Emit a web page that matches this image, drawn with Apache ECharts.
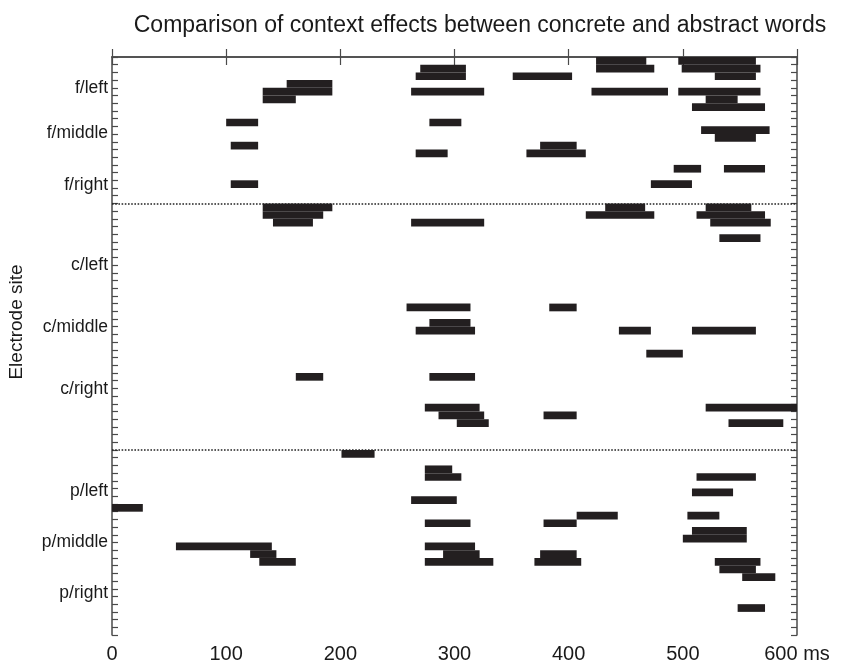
<!DOCTYPE html>
<html>
<head>
<meta charset="utf-8">
<script src="https://cdn.jsdelivr.net/npm/echarts@6/dist/echarts.min.js"></script>
<style>
html,body{margin:0;padding:0;background:#fff;}
#chart{width:843px;height:667px;}
</style>
</head>
<body>
<div id="chart"></div>
<script>
// Electrode rows (0 = top row), start and end times (ms) of each significant segment
const barRow = [0,0, 1,1,1, 2,2,2, 3, 4,4,4,4, 5,5, 6, 8,8, 9, 10, 11,11, 12,12, 14,14, 16,16,
  19,19,19, 20,20,20, 21,21,21, 23,
  32,32, 34, 35,35,35, 38, 41,41, 45,45, 46,46, 47,47,
  51, 53, 54,54, 56, 57, 58, 59,59, 60,60, 61, 62, 63,63, 64,64,64, 65,65,65,65, 66, 67, 71];
const barStart = [424,496, 270,424,499, 266,351,528, 153, 132,262,420,496, 132,520, 508, 100,278, 516, 528, 104,375, 266,363, 492,536, 104,472,
  132,432,520, 132,415,512, 141,262,524, 532,
  258,383, 278, 266,444,508, 468, 161,278, 274,520, 286,378, 302,540,
  201, 274, 274,512, 508, 262, 0, 407,504, 274,378, 508, 500, 56,274, 121,290,375, 129,274,370,528, 532, 552, 548];
const barEnd = [468,564, 310,475,568, 310,403,564, 193, 193,326,487,568, 161,548, 572, 128,306, 576, 564, 128,407, 294,415, 516,572, 128,508,
  193,467,560, 185,475,572, 176,326,577, 568,
  314,407, 314, 318,472,564, 500, 185,318, 322,600, 326,407, 330,588,
  230, 298, 306,564, 544, 302, 27, 443,532, 314,407, 556, 556, 140,318, 144,322,407, 161,334,411,568, 564, 581, 572];

const rowCount = 75;
const groupBorders = [19, 51];
const siteLabels = ['f/left','f/middle','f/right','c/left','c/middle','c/right','p/left','p/middle','p/right'];
const siteLabelRows = [4.1, 9.9, 16.6, 27.0, 35.0, 43.1, 56.4, 63.0, 69.6];
const xTicks = [0, 100, 200, 300, 400, 500, 600];
const xUnit = 'ms';

const data = barRow.map((r, i) => [barStart[i], barEnd[i], r]);
const font = "'Liberation Sans', Arial, Helvetica, sans-serif";
const frame = '#4a4a4a';

const chart = echarts.init(document.getElementById('chart'), null, {renderer: 'canvas'});
chart.setOption({
  animation: false,
  backgroundColor: '#fff',
  title: {
    text: 'Comparison of context effects between concrete and abstract words',
    left: 475, top: 9, textAlign: 'center',
    textStyle: {fontFamily: font, fontSize: 23, fontWeight: 'normal', color: '#1a1a1a'}
  },
  grid: {left: 112, right: 46, top: 57, bottom: 32, containLabel: false, outerBoundsMode: 'none'},
  xAxis: [
    {type: 'value', position: 'bottom', min: xTicks[0], max: xTicks[xTicks.length-1], interval: 100,
     axisLine: {show: true, lineStyle: {color: frame, width: 1.5}},
     axisTick: {show: true, inside: true, length: 8, lineStyle: {color: frame, width: 1.2}},
     splitLine: {show: false},
     axisLabel: {margin: 9, fontFamily: font, fontSize: 20, color: '#1a1a1a',
       formatter: v => (v === xTicks[xTicks.length-1] ? v + ' ' + xUnit : String(v))}},
    {type: 'value', position: 'top', min: xTicks[0], max: xTicks[xTicks.length-1], interval: 100,
     axisLine: {show: true, lineStyle: {color: frame, width: 1.5}},
     axisTick: {show: true, inside: true, length: 8, lineStyle: {color: frame, width: 1.2}},
     splitLine: {show: false}, axisLabel: {show: false}}
  ],
  yAxis: [
    {type: 'value', position: 'left', inverse: true, min: 0, max: rowCount, interval: 1,
     name: 'Electrode site', nameLocation: 'middle', nameGap: 86, nameRotate: 90,
     nameTextStyle: {fontFamily: font, fontSize: 19, color: '#1a1a1a', padding: [0, 0, 0, 48]},
     axisLine: {show: true, lineStyle: {color: frame, width: 1.5}},
     axisTick: {show: true, inside: true, length: 6, lineStyle: {color: frame, width: 1.2}},
     splitLine: {show: false}, axisLabel: {show: false}},
    {type: 'value', position: 'left', inverse: true, min: 0, max: rowCount, interval: 0.1,
     axisLine: {show: false}, axisTick: {show: false}, splitLine: {show: false},
     axisLabel: {show: true, margin: 4, fontFamily: font, fontSize: 17.5, color: '#1a1a1a',
       formatter: v => {
         const k = Math.round(v * 10);
         const i = siteLabelRows.findIndex(r => Math.round(r * 10) === k);
         return i >= 0 ? siteLabels[i] : '';
       }}},
    {type: 'value', position: 'right', inverse: true, min: 0, max: rowCount, interval: 1,
     axisLine: {show: true, lineStyle: {color: frame, width: 1.5}},
     axisTick: {show: true, inside: true, length: 6, lineStyle: {color: frame, width: 1.2}},
     splitLine: {show: false}, axisLabel: {show: false}}
  ],
  series: [{
    type: 'custom',
    xAxisIndex: 0, yAxisIndex: 0,
    clip: true,
    data: data,
    renderItem: function (params, api) {
      const p0 = api.coord([api.value(0), api.value(2)]);
      const p1 = api.coord([api.value(1), api.value(2) + 1]);
      return {
        type: 'rect',
        shape: {x: p0[0], y: p0[1], width: p1[0] - p0[0], height: p1[1] - p0[1]},
        style: {fill: '#231f20', stroke: null}
      };
    },
    markLine: {
      silent: true, symbol: 'none', label: {show: false},
      lineStyle: {type: 'dotted', color: '#222', width: 1.6},
      data: groupBorders.map(b => ({yAxis: b}))
    }
  }]
});
</script>
</body>
</html>
